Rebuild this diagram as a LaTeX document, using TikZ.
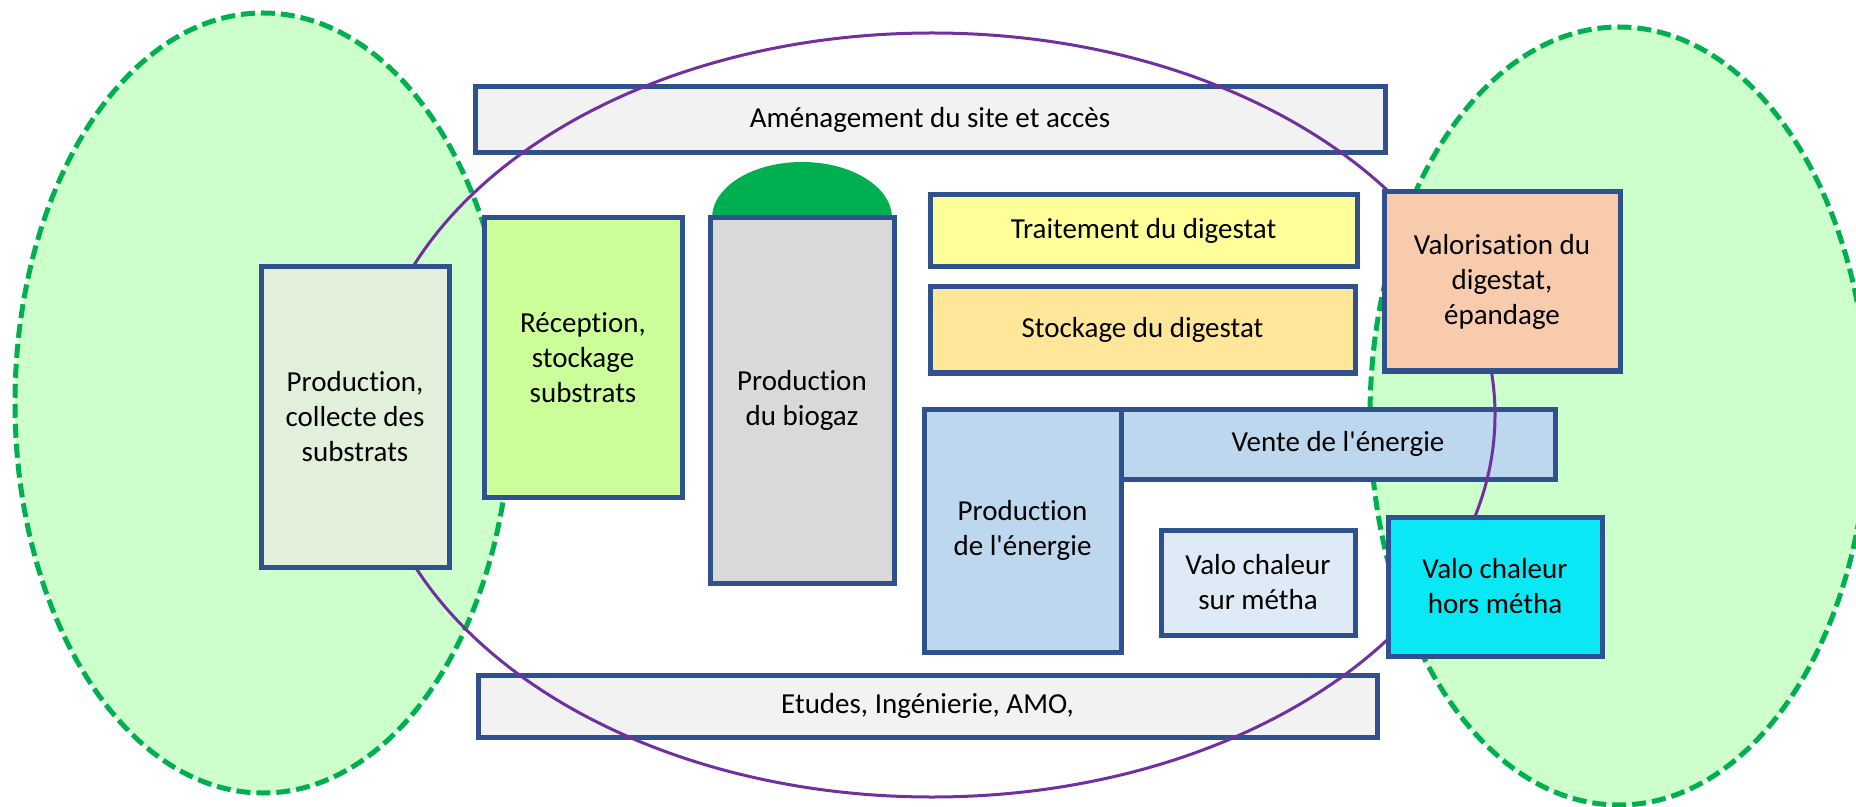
\documentclass[tikz,border=0pt]{standalone}
\usepackage{fontspec}
\newfontfamily\boxfont{Carlito}[Ligatures={NoCommon}]
\definecolor{bordercol}{RGB}{47,82,143}
\definecolor{zonefill}{RGB}{204,255,204}
\definecolor{zonedash}{RGB}{0,176,80}
\definecolor{scopeline}{RGB}{112,48,160}
\definecolor{greyfill}{RGB}{242,242,242}
\definecolor{substratfill}{RGB}{226,239,218}
\definecolor{recepfill}{RGB}{204,255,153}
\definecolor{biogazfill}{RGB}{217,217,217}
\definecolor{domefill}{RGB}{0,176,80}
\definecolor{traitfill}{RGB}{255,255,153}
\definecolor{stockfill}{RGB}{255,230,153}
\definecolor{valdigfill}{RGB}{248,203,173}
\definecolor{energyfill}{RGB}{189,215,238}
\definecolor{valsurfill}{RGB}{222,235,247}
\definecolor{valhorsfill}{RGB}{10,232,245}
\tikzset{
  box/.style={draw=bordercol, line width=2.5pt, rectangle, align=center,
    inner sep=0pt, text=black,
    font=\boxfont\fontsize{14.5}{17.5}\selectfont},
  zone/.style={fill=zonefill, draw=zonedash, line width=2.5pt,
    dash pattern=on 7pt off 3pt},
  scopering/.style={draw=scopeline, line width=1.5pt}
}
\begin{document}
\begin{tikzpicture}[x=0.5pt,y=-0.5pt]
\useasboundingbox (0,0) rectangle (1856,807);
\clip (0,0) rectangle (1856,807);

% upstream and downstream zones
\path[zone] (263,403) ellipse [x radius=248, y radius=390];
\path[zone] (1619,416) ellipse [x radius=249, y radius=389];

% site-wide bands
\node[box, fill=greyfill, minimum width=455pt, minimum height=33pt] (amen) at (930,120) {Aménagement du site et accès};
\node[box, fill=greyfill, minimum width=449.5pt, minimum height=31pt] (etudes) at (927.5,706) {Etudes, Ingénierie, AMO,};

% process units
\node[box, fill=recepfill, minimum width=99pt, minimum height=139.5pt] (recep) at (583,357.5) {Réception,\\ stockage\\ substrats};
\fill[domefill] (802,218) ellipse [x radius=90, y radius=56];
\node[box, fill=biogazfill, minimum width=92pt, minimum height=182.5pt] (biogaz) at (802,400.5) {Production\\ du biogaz};
\node[box, fill=traitfill, minimum width=213.5pt, minimum height=36pt] (trait) at (1143.5,231) {Traitement du digestat};
\node[box, fill=stockfill, minimum width=212.5pt, minimum height=43pt] (stock) at (1142.5,330) {Stockage du digestat};
\node[box, fill=energyfill, minimum width=98.5pt, minimum height=121.5pt] (prodener) at (1022.5,530.5) {Production\\ de l'énergie};
\node[box, fill=energyfill, minimum width=217pt, minimum height=35pt] (vente) at (1338,444) {Vente de l'énergie};
\node[box, fill=valsurfill, minimum width=97pt, minimum height=52.5pt] (valsur) at (1258,582.5) {Valo chaleur\\ sur métha};

% project perimeter
\path[scopering] (932,415) ellipse [x radius=563, y radius=382];

% activities at the edge of the perimeter
\node[box, fill=substratfill, minimum width=94pt, minimum height=150pt] (prodsub) at (355,417) {Production,\\ collecte des\\ substrats};
\node[box, fill=valdigfill, minimum width=118pt, minimum height=89.5pt] (valdig) at (1502,281.5) {Valorisation du\\ digestat,\\ épandage};
\node[box, fill=valhorsfill, minimum width=107pt, minimum height=69.5pt] (valhors) at (1495,586.5) {Valo chaleur\\ hors métha};
\end{tikzpicture}
\end{document}
